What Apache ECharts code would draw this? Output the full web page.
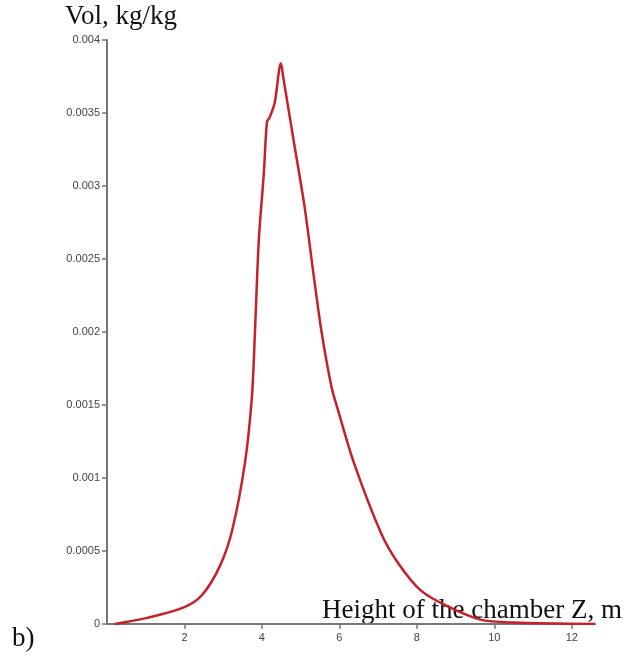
<!DOCTYPE html>
<html style="height: 100%">
<head>
    <meta charset="utf-8">
    <script src="https://cdn.jsdelivr.net/npm/echarts@6/dist/echarts.min.js"></script>
</head>
<body style="height: 100%; margin: 0; background: #fff">
    <div id="container" style="width: 625px; height: 657px"></div>
    <script type="text/javascript">
        // height of the chamber Z, m
        var heights = [0.2, 1.0, 2.0, 2.46, 2.92, 3.23, 3.56, 3.74, 3.82, 3.92, 4.05, 4.13, 4.2, 4.33, 4.49, 4.56,
            4.82, 5.1, 5.33, 5.54, 5.8, 5.97, 6.38, 7.08, 7.51, 8.1, 8.8, 9.64, 10.5, 12.6];
        // Vol, kg/kg
        var vol = [0, 0.00004, 0.000116, 0.0002, 0.0004, 0.00064, 0.0011, 0.00155, 0.002, 0.00263, 0.00309, 0.00344,
            0.00347, 0.00357, 0.00384, 0.00373, 0.00331, 0.00286, 0.0024, 0.002, 0.00162, 0.00146, 0.0011,
            0.00062, 0.00042, 0.00023, 0.00012, 0.00003, 0.00001, 0];

        var points = [];
        for (var i = 0; i < heights.length; i++) {
            points.push([heights[i], vol[i]]);
        }

        var serif = '"Liberation Serif", "Times New Roman", serif';
        var tickFont = {
            color: '#444',
            fontSize: 11,
            fontFamily: '"Liberation Sans", Arial, sans-serif'
        };

        var myChart = echarts.init(document.getElementById('container'));
        var option = {
            backgroundColor: '#fff',
            animation: false,
            grid: {
                left: 107,
                right: 30,
                top: 40,
                bottom: 33
            },
            graphic: [{
                type: 'text',
                left: 65,
                top: 3,
                style: {
                    text: 'Vol, kg/kg',
                    font: '27px ' + serif,
                    fill: '#111'
                }
            }, {
                type: 'text',
                left: 12,
                top: 625,
                style: {
                    text: 'b)',
                    font: '27px ' + serif,
                    fill: '#111'
                }
            }],
            xAxis: {
                type: 'value',
                min: 0,
                max: 12.6,
                interval: 2,
                name: 'Height of the chamber Z, m',
                nameLocation: 'end',
                nameGap: 27,
                nameTextStyle: {
                    align: 'right',
                    verticalAlign: 'bottom',
                    fontSize: 27,
                    fontFamily: serif,
                    color: '#111'
                },
                splitLine: { show: false },
                axisLine: { lineStyle: { color: '#777', width: 2 } },
                axisTick: { length: 5, lineStyle: { color: '#777', width: 1.5 } },
                axisLabel: Object.assign({
                    margin: 8,
                    showMinLabel: false,
                    showMaxLabel: false
                }, tickFont)
            },
            yAxis: {
                type: 'value',
                min: 0,
                max: 0.004,
                interval: 0.0005,
                splitLine: { show: false },
                axisLine: { show: true, lineStyle: { color: '#777', width: 2 } },
                axisTick: { show: true, length: 5, lineStyle: { color: '#777', width: 1.5 } },
                axisLabel: Object.assign({
                    margin: 7,
                    formatter: function(v) {
                        return String(+v.toFixed(4));
                    }
                }, tickFont)
            },
            series: [{
                type: 'line',
                data: points,
                smooth: 0.3,
                showSymbol: false,
                lineStyle: {
                    color: '#c8202a',
                    width: 2.5
                }
            }]
        };
        myChart.setOption(option);
    </script>
</body>
</html>
